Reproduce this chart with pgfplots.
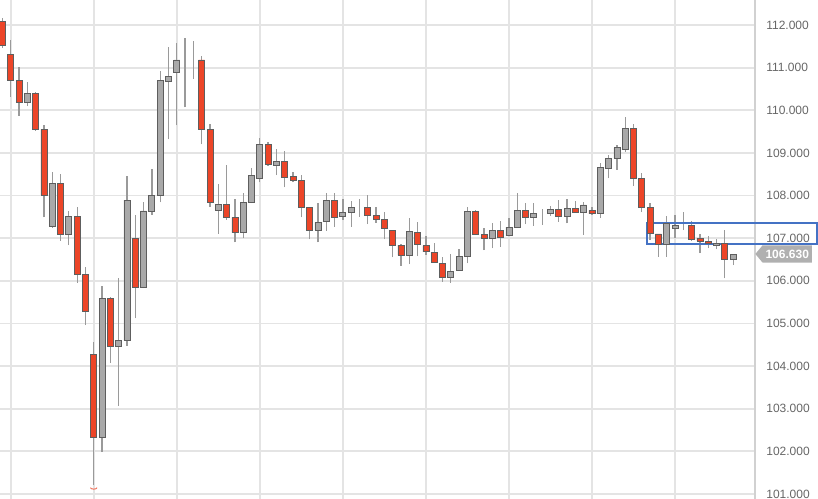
\documentclass[border=0pt]{standalone}
\usepackage{fontspec}
\setmainfont{Liberation Sans}
\usepackage{pgfplots}
\usepackage{pgfplotstable}
\pgfplotsset{compat=1.18}
\usetikzlibrary{shapes.symbols}
\definecolor{candred}{HTML}{EC4528}
\definecolor{candgray}{HTML}{A9A9A9}
\definecolor{bodyborder}{HTML}{5E5E5E}
\definecolor{wick}{HTML}{9A9A9A}
\definecolor{gridc}{HTML}{E4E4E4}
\definecolor{labelc}{HTML}{666666}
\definecolor{tagc}{HTML}{B0B0B0}
\definecolor{boxblue}{HTML}{4472C4}
\pgfdeclareplotmark{smile}{%
  \pgfpathmoveto{\pgfqpoint{-\pgfplotmarksize}{0pt}}%
  \pgfpatharc{180}{360}{\pgfplotmarksize and 0.45\pgfplotmarksize}%
  \pgfusepathqstroke}
\pgfdeclareplotmark{nothing}{}
\pgfplotstableread{
i o h l c
0 112.08 112.16 111.47 111.51
1 111.31 111.65 110.32 110.69
2 110.69 111.01 109.87 110.18
3 110.18 110.67 110.10 110.40
4 110.40 110.42 109.52 109.55
5 109.55 109.65 107.49 108.01
6 107.27 108.55 107.25 108.29
7 108.29 108.51 106.94 107.09
8 107.09 107.64 106.84 107.50
9 107.50 107.72 105.96 106.15
10 106.15 106.32 104.96 105.29
11 104.28 104.56 101.21 102.32
12 102.32 105.88 101.99 105.59
13 105.59 105.62 104.08 104.46
14 104.46 106.06 103.07 104.60
15 104.60 108.47 104.48 107.89
16 107.00 107.54 105.12 105.85
17 105.85 107.84 105.83 107.64
18 107.64 108.62 107.55 108.01
19 108.00 110.93 107.84 110.69
20 110.67 111.48 109.32 110.80
21 110.89 111.57 109.65 111.18
22 111.18 111.69 110.07 111.18
23 111.18 111.63 110.73 111.18
24 111.18 111.27 109.20 109.54
25 109.54 109.68 107.74 107.84
26 107.66 108.27 107.11 107.79
27 107.79 108.72 107.43 107.49
28 107.49 107.91 106.90 107.13
29 107.13 108.07 107.00 107.84
30 107.84 108.65 107.82 108.48
31 108.40 109.36 108.31 109.19
32 109.19 109.25 108.70 108.72
33 108.70 109.08 108.48 108.79
34 108.79 109.04 108.19 108.43
35 108.44 108.56 108.31 108.35
36 108.35 108.48 107.49 107.72
37 107.72 107.73 106.97 107.19
38 107.19 107.82 106.90 107.37
39 107.39 108.05 107.17 107.88
40 107.88 108.05 107.27 107.49
41 107.52 107.92 107.43 107.61
42 107.61 107.87 107.27 107.72
43 107.72 107.91 107.50 107.72
44 107.72 108.01 107.33 107.54
45 107.54 107.72 107.36 107.44
46 107.44 107.61 106.97 107.22
47 107.19 107.20 106.55 106.84
48 106.84 106.86 106.35 106.60
49 106.60 107.47 106.39 107.15
50 107.13 107.39 106.58 106.86
51 106.82 107.05 106.61 106.68
52 106.67 106.88 106.42 106.43
53 106.41 106.57 105.98 106.07
54 106.07 106.62 105.96 106.21
55 106.24 106.75 106.23 106.57
56 106.58 107.74 106.41 107.62
57 107.62 107.66 107.08 107.09
58 107.09 107.25 106.72 107.00
59 107.00 107.35 106.76 107.19
60 107.19 107.40 106.80 107.02
61 107.06 107.48 107.04 107.26
62 107.25 108.05 107.24 107.66
63 107.66 107.82 107.33 107.49
64 107.49 107.82 107.29 107.58
65 107.58 107.68 107.31 107.58
66 107.58 107.76 107.53 107.68
67 107.68 107.90 107.39 107.50
68 107.50 107.92 107.35 107.70
69 107.69 107.87 107.60 107.61
70 107.61 107.86 107.08 107.78
71 107.65 107.74 107.54 107.57
72 107.57 108.76 107.48 108.65
73 108.64 108.95 108.40 108.87
74 108.87 109.19 108.60 109.12
75 109.09 109.84 109.03 109.58
76 109.58 109.68 108.22 108.40
77 108.40 108.52 107.61 107.72
78 107.72 107.83 106.96 107.11
79 107.10 107.11 106.57 106.86
80 106.86 107.52 106.57 107.35
81 107.23 107.54 107.00 107.29
82 107.29 107.61 107.19 107.29
83 107.29 107.41 106.93 106.97
84 107.00 107.10 106.65 106.93
85 106.93 107.04 106.76 106.88
86 106.82 106.98 106.74 106.88
87 106.88 107.20 106.06 106.51
88 106.51 106.63 106.37 106.61
}\data
\pgfplotstableread{
i v
11 101.15
}\lowmark
\begin{document}
\begin{tikzpicture}
\pgfplotsset{
  common/.style={
    at={(0,0)}, anchor=south west, scale only axis,
    width=566.25pt, height=374.25pt,
    xmin=-0.289, xmax=90.63, ymin=100.884, ymax=112.586,
    clip mode=individual,
  }
}
\begin{axis}[common,
  axis line style={draw=none},
  xtick={1,11,...,81}, xticklabels={},
  ytick={101,102,103,104,105,106,107,108,109,110,111,112},
  grid=major, grid style={color=gridc, line width=1.4pt},
  major tick length=0pt,
  yticklabel pos=right,
  yticklabel style={anchor=west, inner sep=0pt, xshift=8.3pt, text=labelc,
    font=\fontsize{9}{10}\selectfont},
  /pgf/number format/.cd, fixed, fixed zerofill, precision=3, assume math mode=true,
]
\draw[color=black!18, line width=1pt] (rel axis cs:1,0) -- (rel axis cs:1,1);
\addplot[only marks, mark=nothing,
  error bars/.cd, y dir=plus, y explicit, error mark=none,
  error bar style={draw=wick, line width=0.95pt}]
  table[x=i, y=l, y error expr=\thisrow{h}-\thisrow{l}] {\data};
\addplot[only marks, mark=smile, mark size=2.5pt,
  mark options={color=candred!80, line width=0.7pt}]
  table[x=i, y=v] {\lowmark};
\end{axis}
\begin{axis}[common, hide axis, ybar stacked, bar width=4.5pt]
\addplot[draw=none, fill=none] table[x=i, y expr={min(\thisrow{o},\thisrow{c})}] {\data};
\addplot[fill=candred, draw=bodyborder, line width=0.6pt]
  table[x=i, y expr={max(\thisrow{o}-\thisrow{c},0)}] {\data};
\addplot[fill=candgray, draw=bodyborder, line width=0.6pt]
  table[x=i, y expr={max(\thisrow{c}-\thisrow{o},0)}] {\data};
\draw[boxblue, line width=1.5pt] (axis cs:77.59,106.86) rectangle (axis cs:98.1,107.35);
\node[signal, signal to=west, signal pointer angle=100, fill=tagc, draw=none,
  text=white, font=\bfseries\fontsize{9}{10}\selectfont,
  minimum height=13pt, inner xsep=2.2pt, inner ysep=1pt, anchor=west]
  at (axis cs:90.63,106.63) {106.630};
\end{axis}
\pgfresetboundingbox
\path[use as bounding box] (0,0) rectangle (613.5pt,374.25pt);
\end{tikzpicture}
\end{document}
